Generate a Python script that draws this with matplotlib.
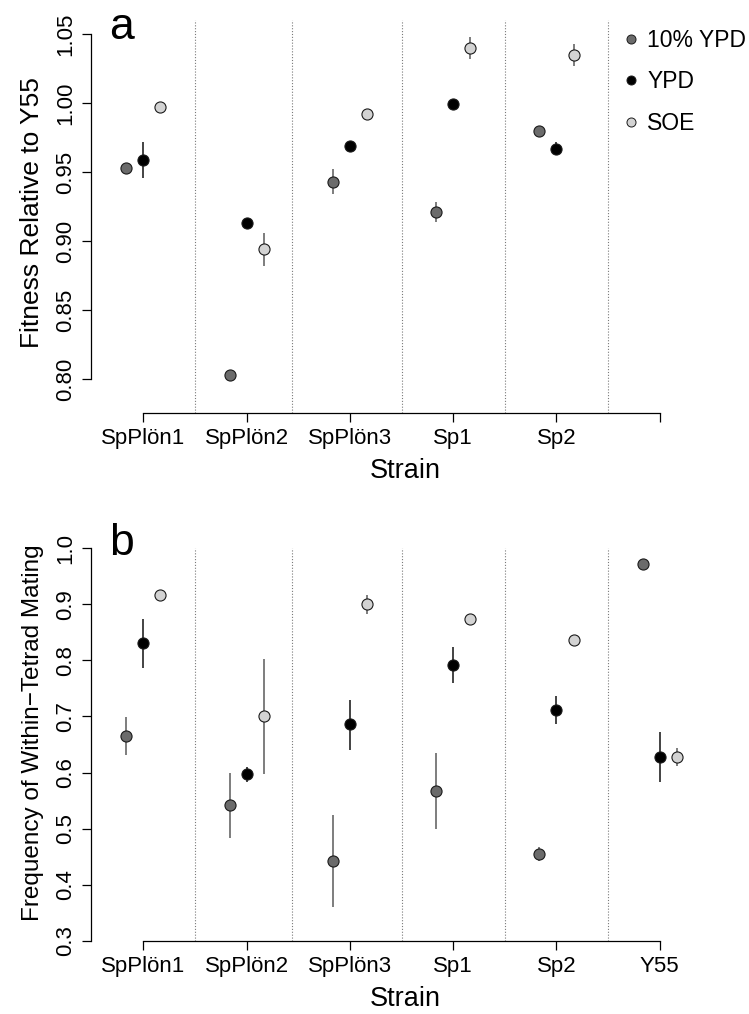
import numpy as np
import matplotlib.pyplot as plt
from matplotlib.lines import Line2D

plt.rcParams['font.family'] = ['Liberation Sans', 'DejaVu Sans']

# --- data -------------------------------------------------------------
strains = ["SpPlön1", "SpPlön2", "SpPlön3", "Sp1", "Sp2", "Y55"]
media = ["10% YPD", "YPD", "SOE"]

# panel a: fitness relative to Y55 (no Y55 entry)
fit_mean = {
    "10% YPD": [0.953, 0.803, 0.943, 0.921, 0.980],
    "YPD":     [0.959, 0.913, 0.969, 0.999, 0.967],
    "SOE":     [0.997, 0.894, 0.992, 1.040, 1.035],
}
fit_err = {
    "10% YPD": [0.002, 0.002, 0.009, 0.007, 0.002],
    "YPD":     [0.013, 0.002, 0.002, 0.002, 0.005],
    "SOE":     [0.002, 0.012, 0.002, 0.008, 0.008],
}

# panel b: frequency of within-tetrad mating
mat_mean = {
    "10% YPD": [0.666, 0.543, 0.443, 0.567, 0.455, 0.971],
    "YPD":     [0.830, 0.597, 0.686, 0.791, 0.711, 0.628],
    "SOE":     [0.917, 0.700, 0.900, 0.873, 0.837, 0.628],
}
mat_lo = {
    "10% YPD": [0.631, 0.484, 0.360, 0.500, 0.443, 0.969],
    "YPD":     [0.787, 0.584, 0.641, 0.759, 0.686, 0.584],
    "SOE":     [0.915, 0.598, 0.882, 0.871, 0.835, 0.612],
}
mat_hi = {
    "10% YPD": [0.699, 0.600, 0.524, 0.634, 0.467, 0.973],
    "YPD":     [0.873, 0.610, 0.729, 0.824, 0.737, 0.673],
    "SOE":     [0.919, 0.803, 0.916, 0.875, 0.839, 0.643],
}

dividers = [1.5, 2.44, 3.5, 4.5, 5.5]
offsets = {"10% YPD": -0.165, "YPD": 0.0, "SOE": 0.165}
fills = {"10% YPD": "#6b6b6b", "YPD": "#000000", "SOE": "#d3d3d3"}
ecols = {"10% YPD": "#5a5a5a", "YPD": "#111111", "SOE": "#5a5a5a"}

# --- layout -----------------------------------------------------------
W, H = 749, 1014
XL = (0.494, 6.58)
UNIT = 103.3  # px per strain


def rect(left, top, bottom):
    width = (XL[1] - XL[0]) * UNIT
    return [left / W, 1 - bottom / H, width / W, (bottom - top) / H]


fig = plt.figure(figsize=(W / 100, H / 100), dpi=100)
ax_a = fig.add_axes(rect(91, 20, 413))
ax_b = fig.add_axes(rect(91, 548, 941))


def style(ax, ylim, yticks, fmt, xlabels):
    ax.set_xlim(*XL)
    ax.set_ylim(*ylim)
    for s in ["top", "right"]:
        ax.spines[s].set_visible(False)
    ax.spines["left"].set_bounds(yticks[0], yticks[-1])
    ax.spines["bottom"].set_bounds(1, 6)
    for s in ["left", "bottom"]:
        ax.spines[s].set_linewidth(0.9)
    ax.set_xticks(np.arange(1, 7))
    ax.set_xticklabels(xlabels)
    ax.set_yticks(yticks)
    ax.set_yticklabels([fmt.format(t) for t in yticks])
    ax.tick_params(direction="out", length=6.5, width=0.9, labelsize=16)
    ax.tick_params(axis="x", pad=4.5)
    ax.tick_params(axis="y", pad=4)
    plt.setp(ax.get_yticklabels(), rotation=90, va="center")
    for d in dividers:
        ax.axvline(d, color="#7a7a7a", lw=0.8, ls=(0, (1, 1.6)), zorder=0)
    ax.set_xlabel("Strain", fontsize=19.5, labelpad=6)


def draw(ax, means, lo, hi, n):
    x0 = np.arange(1, n + 1)
    for m in media:
        x = x0 + offsets[m]
        y = np.array(means[m])
        yerr = [y - np.array(lo[m]), np.array(hi[m]) - y]
        ax.errorbar(x, y, yerr=yerr, fmt="none", ecolor=ecols[m],
                    elinewidth=1.1, capsize=0, zorder=2)
        ax.plot(x, y, "o", ms=8, mfc=fills[m], mec="#1a1a1a", mew=0.8,
                ls="none", zorder=3)


# panel a
lo_a = {m: np.array(fit_mean[m]) - np.array(fit_err[m]) for m in media}
hi_a = {m: np.array(fit_mean[m]) + np.array(fit_err[m]) for m in media}
draw(ax_a, fit_mean, lo_a, hi_a, 5)
style(ax_a, (0.7754, 1.0601), np.round(np.arange(0.80, 1.051, 0.05), 2),
      "{:.2f}", strains[:5] + [""])
ax_a.set_ylabel("Fitness Relative to Y55", fontsize=19)
ax_a.yaxis.set_label_coords(-0.074, 0.511)

# panel b
draw(ax_b, mat_mean, mat_lo, mat_hi, 6)
style(ax_b, (0.3, 1.0), np.round(np.arange(0.3, 1.01, 0.1), 1),
      "{:.1f}", strains)
ax_b.set_ylabel("Frequency of Within\u2212Tetrad Mating", fontsize=17.5)
ax_b.yaxis.set_label_coords(-0.074, 0.53)

fig.text(109 / W, 1 - 39 / H, "a", fontsize=32, ha="left", va="baseline")
fig.text(109 / W, 1 - 555 / H, "b", fontsize=32, ha="left", va="baseline")

handles = [Line2D([], [], marker="o", ls="none", ms=6.5, mfc=fills[m],
                  mec="#1a1a1a", mew=0.7) for m in media]
fig.legend(handles, media, loc="upper left",
           bbox_to_anchor=(623 / W, 1 - 29 / H), frameon=False,
           fontsize=16.5, handlelength=0.7, handletextpad=0.35,
           labelspacing=0.8, borderpad=0, borderaxespad=0)

fig.savefig("out.png", dpi=100)
